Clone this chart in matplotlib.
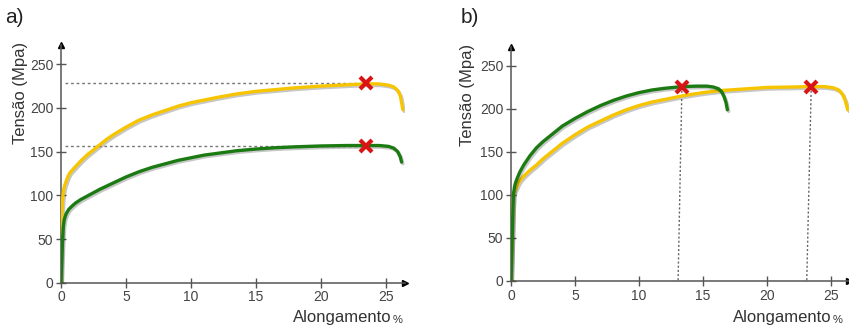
import matplotlib.pyplot as plt
from matplotlib import patheffects as pe

plt.rcParams['font.family'] = ['Liberation Sans', 'DejaVu Sans']

# curvas tensão x alongamento
a_yel_x = [0, 0.05, 0.12, 0.2, 0.3, 0.4, 0.55, 0.7, 1.0, 1.5, 2, 2.5, 3, 3.5, 4, 5, 6, 7, 8, 9, 10, 11, 12, 13.5, 15, 16.5, 18, 20, 22, 23.5, 24.5, 25.2, 25.6, 25.9, 26.1, 26.2, 26.3]
a_yel_y = [0, 72, 95, 106, 112, 116, 122, 126, 131, 139, 146, 152, 158, 164, 169, 178, 186, 192, 197, 202, 206, 209, 212, 216, 219, 221, 223, 225, 226.5, 227.5, 227.5, 226, 224, 220, 214, 206, 198]
a_grn_x = [0, 0.05, 0.12, 0.18, 0.25, 0.35, 0.44, 0.6, 0.8, 1.1, 1.5, 2, 2.5, 3, 4, 5, 6, 7, 8, 9, 10, 11, 12, 13.5, 15, 16.5, 18, 20, 22, 23.5, 24.5, 25.2, 25.6, 25.9, 26.1, 26.2]
a_grn_y = [0, 20, 48, 64, 72, 77, 80, 84, 87, 91, 95, 99, 103, 107, 114, 121, 127, 132, 136, 140, 143, 146, 148, 151, 153, 154.5, 155.5, 156.5, 157, 157, 157, 156, 154, 150, 144, 138]

b_grn_x = [0, 0.05, 0.1, 0.15, 0.2, 0.28, 0.35, 0.5, 0.7, 1, 1.5, 2, 2.5, 3, 4, 5, 6, 7, 8, 9, 10, 11, 12, 13.4, 14.5, 15.3, 15.8, 16.2, 16.45, 16.65, 16.8, 16.9]
b_grn_y = [0, 25, 55, 85, 102, 110, 114, 120, 127, 135, 146, 155, 162, 168, 180, 189, 197, 204, 210, 215, 219, 222, 224, 226, 226.5, 226.5, 225.5, 223.5, 220, 214, 207, 199]
b_yel_x = [0, 0.05, 0.1, 0.15, 0.2, 0.3, 0.4, 0.55, 0.7, 1, 1.5, 2, 2.5, 3, 4, 5, 6, 7, 8, 9, 10, 11, 12, 13.5, 15, 16.5, 18, 20, 22, 23.4, 24.5, 25.2, 25.6, 25.9, 26.1, 26.3]
b_yel_y = [0, 25, 55, 85, 100, 105, 108, 113, 117, 122, 129, 135, 142, 148, 160, 170, 179, 186, 193, 199, 204, 208, 211, 215.5, 219, 221.5, 223, 225, 225.5, 226, 226, 224.5, 222, 217, 210, 199]

# pontos de ruptura (X)
a_rup_x = [23.5, 23.5]
a_rup_y = [228, 157]
b_rup_x = [13.35, 23.45]
b_rup_y = [226, 226]
b_drop_x = [13.05, 23.1]  # pé das linhas pontilhadas

xticks = [0, 5, 10, 15, 20, 25]
yticks = [0, 50, 100, 150, 200, 250]

yellow = '#F7C500'
green = '#1B7A12'
red = '#D81414'
shadow = [pe.SimpleLineShadow(offset=(1.0, -1.2), alpha=0.22, shadow_color='k'), pe.Normal()]

fig = plt.figure(figsize=(8.49, 3.25), dpi=100)
ax1 = fig.add_axes([0.0718, 0.130, 0.4058, 0.7315])
ax2 = fig.add_axes([0.6019, 0.1354, 0.3981, 0.7200])


def style(ax, xmax, ymax):
    ax.set_xlim(0, xmax)
    ax.set_ylim(0, ymax)
    for s in ['top', 'right']:
        ax.spines[s].set_visible(False)
    for s in ['left', 'bottom']:
        ax.spines[s].set_color('#555555')
        ax.spines[s].set_linewidth(1.1)
    ax.set_xticks(xticks)
    ax.set_yticks(yticks)
    ax.tick_params(direction='inout', length=7, width=1, color='#555555',
                   labelcolor='#444444', labelsize=10, pad=2)
    ax.plot(0, 1, '^', color='k', ms=5, transform=ax.transAxes, clip_on=False)
    ax.plot(1, 0, '>', color='k', ms=5, transform=ax.transAxes, clip_on=False)


style(ax1, 26.5, 272)
style(ax2, 26.4, 272)

kw = dict(lw=2.4, solid_capstyle='round', solid_joinstyle='round', path_effects=shadow)

# painel a
for y in a_rup_y:
    ax1.plot([0.3, 23.5], [y, y], color='#777777', lw=1, ls=(0, (2, 2)), zorder=1)
ax1.plot(a_yel_x, a_yel_y, color=yellow, zorder=3, **kw)
ax1.plot(a_grn_x, a_grn_y, color=green, zorder=3, **kw)
ax1.plot(a_rup_x, a_rup_y, 'x', color=red, ms=8, mew=3, zorder=5)

# painel b
for xt, xb, y in zip(b_rup_x, b_drop_x, b_rup_y):
    ax2.plot([xt, xb], [y, 0], color='#666666', lw=1, ls=(0, (1.5, 1.5)), zorder=1)
ax2.plot(b_yel_x, b_yel_y, color=yellow, zorder=3, **kw)
ax2.plot(b_grn_x, b_grn_y, color=green, zorder=4, **kw)
ax2.plot(b_rup_x, b_rup_y, 'x', color=red, ms=8, mew=3, zorder=5)

# textos
fig.text(0.006, 0.975, 'a)', fontsize=15, color='#222222', va='top')
fig.text(0.543, 0.975, 'b)', fontsize=15, color='#222222', va='top')
fig.text(0.024, 0.715, 'Tensão (Mpa)', rotation=90, fontsize=12, color='#333333', ha='center', va='center')
fig.text(0.551, 0.707, 'Tensão (Mpa)', rotation=90, fontsize=12, color='#333333', ha='center', va='center')
fig.text(0.345, 0.0, 'Alongamento', fontsize=12, color='#333333', ha='left', va='bottom')
fig.text(0.463, 0.0, '%', fontsize=8, color='#333333', ha='left', va='bottom')
fig.text(0.863, 0.0, 'Alongamento', fontsize=12, color='#333333', ha='left', va='bottom')
fig.text(0.981, 0.0, '%', fontsize=8, color='#333333', ha='left', va='bottom')

fig.savefig('out.png', dpi=100)
